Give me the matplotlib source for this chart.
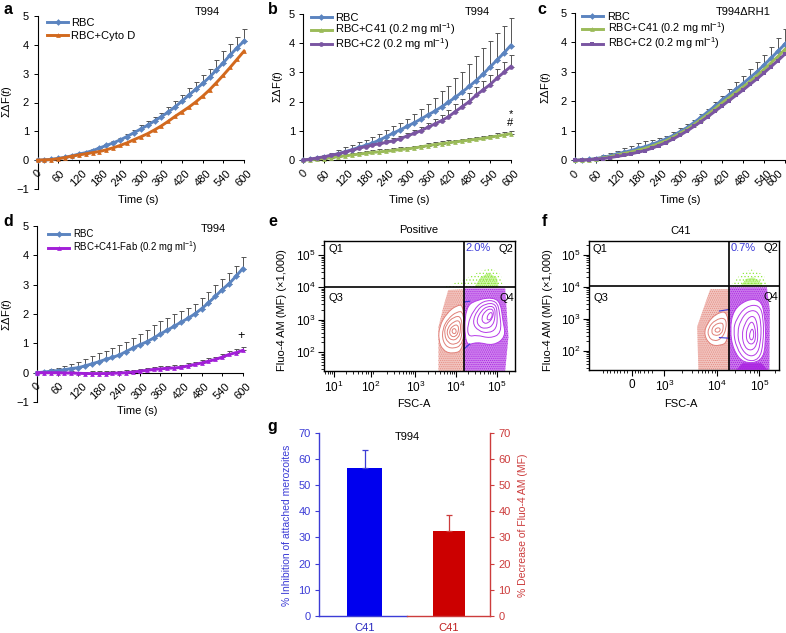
import numpy as np
import matplotlib
matplotlib.use("Agg")
import matplotlib.pyplot as plt
from matplotlib.path import Path
from matplotlib.patches import PathPatch, Polygon
from matplotlib.transforms import ScaledTranslation

plt.rcParams.update({
    'font.family': ['Liberation Sans', 'DejaVu Sans'], 'font.size': 8,
    'mathtext.fontset': 'custom', 'mathtext.rm': 'Liberation Sans',
    'mathtext.it': 'Liberation Sans:italic', 'mathtext.bf': 'Liberation Sans:bold',
    'axes.linewidth': 0.8, 'hatch.linewidth': 0.5,
})

time_s = list(range(0, 601, 20))
time_ticks = list(range(0, 601, 60))

a_rbc = [0,.01,.03,.06,.10,.15,.21,.26,.33,.42,.51,.60,.70,.82,.95,1.08,1.21,1.36,1.51,1.67,1.85,2.05,2.26,2.46,2.66,2.88,3.13,3.38,3.65,3.90,4.13]
a_rbc_err = [0,.01,.01,.02,.02,.02,.03,.04,.05,.05,.06,.07,.07,.08,.09,.15,.14,.13,.12,.17,.20,.22,.24,.26,.29,.29,.33,.40,.37,.38,.42]
a_cyto = [0,.01,.02,.05,.09,.14,.18,.22,.26,.30,.36,.43,.51,.60,.71,.81,.92,1.05,1.19,1.35,1.52,1.68,1.84,2.02,2.22,2.44,2.69,2.95,3.22,3.50,3.78]

b_rbc = [0,.02,.06,.10,.15,.21,.28,.35,.43,.50,.58,.68,.80,.92,1.03,1.15,1.27,1.40,1.54,1.67,1.82,1.98,2.15,2.33,2.52,2.72,2.94,3.18,3.42,3.66,3.92]
b_rbc_err = [0,.02,.05,.08,.10,.14,.17,.17,.17,.20,.22,.22,.23,.25,.25,.27,.30,.33,.38,.45,.53,.57,.65,.70,.76,.83,.88,.90,.93,.94,.96]
b_c41 = [0,.01,.03,.05,.08,.11,.14,.17,.20,.23,.26,.28,.30,.33,.36,.38,.41,.45,.49,.53,.56,.59,.62,.65,.68,.71,.74,.78,.82,.86,.90]
b_c41_err = [0,.01,.02,.02,.03,.04,.05,.06,.07,.07,.08,.08,.08,.08,.08,.08,.08,.08,.08,.08,.08,.08,.08,.08,.09,.09,.09,.09,.09,.10,.11]
b_c2 = [0,.03,.07,.11,.16,.21,.27,.33,.40,.46,.51,.56,.60,.66,.73,.82,.91,1.00,1.12,1.23,1.35,1.48,1.66,1.83,2.00,2.22,2.40,2.58,2.80,3.00,3.20]
b_c2_err = [0,.01,.02,.03,.04,.04,.05,.06,.07,.08,.08,.09,.09,.10,.10,.11,.12,.13,.16,.18,.20,.22,.25,.27,.30,.28,.30,.32,.33,.35,.40]

c_rbc = [0,.01,.03,.06,.10,.15,.22,.27,.33,.40,.46,.54,.63,.72,.84,.97,1.11,1.28,1.46,1.65,1.84,2.04,2.22,2.41,2.60,2.80,3.00,3.23,3.46,3.70,3.94]
c_rbc_err = [0,.01,.03,.05,.07,.09,.11,.13,.15,.18,.18,.16,.14,.12,.12,.12,.11,.10,.10,.10,.12,.15,.20,.24,.27,.30,.33,.35,.39,.45,.51]
c_c41 = [0,.01,.02,.05,.08,.12,.18,.23,.28,.34,.40,.48,.57,.66,.78,.91,1.05,1.21,1.38,1.56,1.75,1.94,2.12,2.30,2.48,2.67,2.87,3.08,3.30,3.52,3.76]
c_c41_err = [0,.01,.01,.02,.03,.04,.05,.06,.06,.07,.07,.06,.05,.04,.04,.04,.05,.06,.07,.08,.09,.10,.11,.12,.13,.14,.15,.16,.17,.18,.20]
c_c2 = [0,.01,.02,.04,.06,.09,.13,.17,.22,.27,.33,.41,.50,.60,.72,.85,.99,1.15,1.31,1.48,1.66,1.84,2.02,2.20,2.38,2.57,2.76,2.96,3.17,3.38,3.60]

d_rbc = [0,.02,.05,.07,.10,.14,.17,.23,.30,.37,.45,.52,.60,.72,.84,.95,1.05,1.18,1.32,1.45,1.58,1.72,1.85,2.00,2.18,2.38,2.60,2.83,3.03,3.28,3.55]
d_rbc_err = [0,.03,.07,.10,.13,.15,.18,.22,.27,.30,.30,.32,.33,.33,.35,.37,.42,.43,.45,.42,.42,.38,.35,.33,.35,.38,.38,.37,.37,.37,.38]
d_fab = [0,0,0,0,-.01,-.01,-.02,-.03,-.03,-.03,-.03,-.02,-.01,0,.02,.05,.08,.11,.13,.15,.16,.18,.23,.28,.33,.39,.45,.53,.62,.68,.76]
d_fab_err = [0,.01,.02,.03,.04,.05,.05,.06,.07,.07,.07,.07,.07,.08,.08,.08,.08,.08,.09,.09,.09,.09,.09,.09,.09,.10,.10,.10,.11,.11,.12]

# flow cytometry: log10 units
e_pink_dots = [(4.20,3.94),(3.81,3.92),(3.69,3.40),(3.57,2.78),(3.57,1.42),(4.20,1.42)]
e_purple_dots = [(4.20,3.97),(5.21,3.97),(5.29,2.47),(5.21,1.42),(4.20,1.42)]
e_green_outer = [(3.70,4.0),(4.20,4.25),(4.60,4.50),(4.85,4.60),(5.10,4.40),(5.16,4.0)]
e_green_inner = [(4.45,4.0),(4.60,4.30),(4.80,4.45),(5.0,4.30),(5.05,4.0)]
e_pink_contours = [
    [(4.20,3.45),(4.02,3.45),(3.77,3.20),(3.59,2.79),(3.57,2.37),(3.67,2.06),(3.89,1.94),(4.20,2.06)],
    [(4.20,3.25),(4.02,3.25),(3.81,3.04),(3.67,2.73),(3.67,2.32),(3.85,2.08),(4.20,2.22)],
    [(4.15,3.10),(3.95,3.10),(3.75,2.85),(3.71,2.55),(3.80,2.28),(3.98,2.22),(4.15,2.40)],
    [(4.10,2.98),(3.95,2.95),(3.79,2.75),(3.78,2.50),(3.90,2.35),(4.05,2.42),(4.12,2.65)],
    [(4.05,2.85),(3.93,2.82),(3.83,2.66),(3.87,2.48),(4.00,2.47),(4.07,2.66)],
    [(3.98,2.75),(3.89,2.68),(3.93,2.55),(4.02,2.60)],
]
e_purple_contours = [
    [(4.22,3.40),(4.55,3.63),(4.92,3.69),(5.10,3.51),(5.15,2.99),(5.23,2.47),(4.92,2.19),(4.51,2.32),(4.22,2.17)],
    [(4.28,2.84),(4.43,3.30),(4.67,3.59),(5.0,3.59),(5.08,3.20),(5.12,2.58),(4.84,2.42),(4.51,2.53),(4.30,2.47)],
    [(4.40,2.90),(4.52,3.30),(4.72,3.50),(4.98,3.50),(5.02,3.15),(5.0,2.72),(4.80,2.58),(4.55,2.65)],
    [(4.50,2.98),(4.62,3.28),(4.78,3.42),(4.95,3.40),(4.97,3.10),(4.90,2.80),(4.72,2.72),(4.57,2.78)],
    [(4.62,3.05),(4.72,3.27),(4.85,3.35),(4.93,3.27),(4.90,3.05),(4.80,2.90),(4.68,2.88)],
    [(4.75,3.05),(4.82,3.22),(4.90,3.22),(4.88,3.05),(4.80,2.97)],
]
e_gate_marks = [[(4.20,3.55),(4.34,3.57)], [(4.20,2.10),(4.34,2.25)]]
f_pink_dots = [(4.29,3.93),(3.83,3.93),(3.63,3.18),(3.52,2.76),(3.55,1.41),(4.29,1.41)]
f_purple_dots = [(4.29,3.99),(5.18,3.99),(5.25,3.28),(5.24,1.41),(4.29,1.41)]
f_purple_base = [(4.45,1.41),(4.60,1.62),(5.05,1.62),(5.20,1.41)]
f_green_outer = [(4.30,4.03),(4.58,4.43),(4.82,4.55),(5.10,4.38),(5.21,4.03)]
f_green_inner = [(4.55,4.03),(4.68,4.25),(4.85,4.30),(5.0,4.20),(5.08,4.03)]
f_pink_contours = [
    [(4.26,3.25),(3.98,3.18),(3.75,2.86),(3.68,2.50),(3.83,2.19),(4.06,2.16),(4.26,2.29)],
    [(4.20,3.05),(3.95,2.98),(3.78,2.72),(3.78,2.45),(3.92,2.30),(4.10,2.38),(4.22,2.70)],
    [(4.12,2.90),(3.92,2.82),(3.85,2.60),(3.93,2.47),(4.10,2.52),(4.15,2.75)],
    [(4.05,2.75),(3.93,2.68),(3.97,2.57),(4.08,2.62)],
]
f_purple_contours = [
    [(4.38,3.28),(4.70,3.61),(5.02,3.61),(5.13,3.18),(5.16,2.24),(5.06,1.67),(4.62,1.61),(4.38,2.03),(4.30,2.66)],
    [(4.45,3.0),(4.68,3.40),(5.0,3.45),(5.10,3.05),(5.10,2.25),(5.0,1.72),(4.68,1.68),(4.45,2.10),(4.38,2.65)],
    [(4.55,2.95),(4.72,3.25),(4.95,3.27),(5.05,2.9),(5.03,2.2),(4.92,1.85),(4.70,1.85),(4.52,2.2),(4.48,2.6)],
    [(4.65,2.85),(4.78,3.1),(4.92,3.05),(4.97,2.6),(4.95,2.2),(4.82,2.0),(4.65,2.1),(4.58,2.5)],
    [(4.72,2.75),(4.82,2.95),(4.90,2.75),(4.92,2.4),(4.85,2.2),(4.72,2.25),(4.68,2.5)],
    [(4.78,2.6),(4.84,2.72),(4.88,2.5),(4.83,2.32),(4.76,2.4)],
]
f_gate_marks = [[(4.05,3.25),(4.29,3.30)], [(4.05,2.42),(4.29,2.40)]]
e_x_major = [1, 1.9, 3, 4, 5]
e_y_major = [5, 4, 3, 2]
f_x_major = [1.96, 2.74, 4, 5]
f_x_labels = ['0', '$10^{3}$', '$10^{4}$', '$10^{5}$']
f_x_minor = [1.29,1.37,1.45,1.53,1.61,1.69,1.77,1.85,2.04,2.10,2.16,2.25,2.35,2.45,3.16,3.40,3.54,3.63,3.71,3.79,3.87,3.94,4.42,4.66,4.78,4.87,4.94,5.37]

g_categories = ['C41', 'C41']
g_inhibition, g_inhibition_err = 56.5, 7.0
g_decrease, g_decrease_err = 32.3, 6.2

BLUE, ORANGE, GREEN, PURPLE, MAGENTA = '#5B84C0', '#D2691E', '#9BBB59', '#7A55A2', '#A21FD8'
W, H = 786, 633
fig = plt.figure(figsize=(W/100, H/100), dpi=100)

def fx(p): return p/W
def fy(p): return 1-p/H

def px_axes(l, t, r, b):
    ax = fig.add_axes([l/W, 1-b/H, (r-l)/W, (b-t)/H])
    ax.patch.set_alpha(0)
    return ax

def place_labels(ax, xl, xp, yl, yp):
    ax.set_xlabel(xl, ha='center', va='center')
    ax.xaxis.set_label_coords(fx(xp[0]), fy(xp[1]), transform=fig.transFigure)
    ax.set_ylabel(yl, ha='center', va='center', rotation=90)
    ax.yaxis.set_label_coords(fx(yp[0]), fy(yp[1]), transform=fig.transFigure)

def note(s, x, y, **kw):
    kw.setdefault('ha', 'center')
    kw.setdefault('va', 'center')
    fig.text(fx(x), fy(y), s, **kw)

def line_panel(box, ymin, series, xlabel_xy, ylabel_xy, leg_xy, leg_labelspacing, leg_fs=8, pad=0.3):
    ax = px_axes(*box)
    ax.set_xlim(0, 600)
    ax.set_ylim(ymin, 5)
    for s in ['top', 'right']:
        ax.spines[s].set_visible(False)
    ax.spines['bottom'].set_position(('data', 0))
    handles = []
    for vals, err, col, mk, lab in series:
        if err is not None:
            ax.errorbar(time_s, vals, yerr=[[0]*len(err), err], fmt='none', ecolor='#555555',
                        elinewidth=0.7, capsize=1.8, capthick=0.7, zorder=2, clip_on=False)
    for i, (vals, err, col, mk, lab) in enumerate(series):
        h, = ax.plot(time_s, vals, color=col, lw=2.1, marker=mk, ms=3.4, mew=0, zorder=3+i, clip_on=False, label=lab)
        handles.append(h)
    ax.set_xticks(time_ticks)
    ax.set_yticks(range(ymin, 6))
    ax.set_yticklabels([str(v).replace('-', '\u2212') for v in range(ymin, 6)])
    ax.tick_params(axis='x', length=2, width=0.7, pad=4, labelrotation=45)
    ax.tick_params(axis='y', length=3, width=0.7, pad=3)
    place_labels(ax, 'Time (s)', xlabel_xy, 'ΣΔF($\\mathit{t}$)', ylabel_xy)
    ax.legend(handles=handles, loc='upper left', bbox_to_anchor=(fx(leg_xy[0]), fy(leg_xy[1])),
              bbox_transform=fig.transFigure, frameon=False, borderpad=0, borderaxespad=0,
              handlelength=21/(leg_fs*100/72), handletextpad=pad, labelspacing=leg_labelspacing, fontsize=leg_fs)
    return ax

ML = ' (0.2 mg ml$^{\\mathregular{\u22121}}$)'
axa = line_panel((37.5, 16, 244, 189), -1,
                 [(a_rbc, a_rbc_err, BLUE, 'D', 'RBC'), (a_cyto, None, ORANGE, '^', 'RBC+Cyto D')],
                 (138, 200), (7, 102), (47, 17.5), 0.32)
axb = line_panel((303.3, 14, 510.7, 160), 0,
                 [(b_rbc, b_rbc_err, BLUE, 'D', 'RBC'), (b_c41, b_c41_err, GREEN, '^', 'RBC+C41'+ML),
                  (b_c2, b_c2_err, PURPLE, 'o', 'RBC+C2'+ML)],
                 (409, 200), (278, 87), (310.7, 13), -0.12)
axc = line_panel((575, 12.7, 785, 160.3), 0,
                 [(c_rbc, c_rbc_err, BLUE, 'D', 'RBC'), (c_c41, c_c41_err, GREEN, '^', 'RBC+C41'+ML),
                  (c_c2, None, PURPLE, 's', 'RBC+C2'+ML)],
                 (680, 200), (546, 88), (581.7, 11.5), -0.08, leg_fs=7.8, pad=0.45)
axd = line_panel((37, 226, 242.7, 402), -1,
                 [(d_rbc, d_rbc_err, BLUE, 'D', 'RBC'), (d_fab, d_fab_err, MAGENTA, '^', 'RBC+C41-Fab'+ML)],
                 (137, 411), (7, 315), (48, 229), 0.03, leg_fs=6.9, pad=0.4)
# keep the last tick label of panel c inside the picture
last = axc.get_xticklabels()[-1]
last.set_transform(last.get_transform() + ScaledTranslation(-10/72*0.72, 0, fig.dpi_scale_trans))
axb.text(600, 1.58, '*', ha='center', va='center', fontsize=8, clip_on=False)
axb.text(598, 1.27, '#', ha='center', va='center', fontsize=8, clip_on=False)
axd.text(595, 1.24, '+', ha='center', va='center', fontsize=9)

for s, x, y in [('T994', 207, 12), ('T994', 477, 12), ('T994ΔRH1', 743, 12), ('T994', 213, 229)]:
    note(s, x, y)

def smooth_path(pts):
    pts = np.asarray(pts, float)
    mids = (pts + np.roll(pts, -1, axis=0)) / 2
    v, c = [mids[-1]], [Path.MOVETO]
    for p, m in zip(pts, mids):
        v += [p, m]
        c += [Path.CURVE3, Path.CURVE3]
    return Path(v, c)

def dots(ax, poly, col, hatch, tint=None, z=1):
    if tint is not None:
        ax.add_patch(Polygon(poly, closed=True, facecolor=col, alpha=tint, edgecolor='none', zorder=z))
    ax.add_patch(Polygon(poly, closed=True, facecolor='none', edgecolor=col, lw=0, hatch=hatch, zorder=z))

def contours(ax, sets, col, z):
    ax.add_patch(PathPatch(smooth_path(sets[0]), facecolor='white', edgecolor='none', zorder=z))
    for c in sets:
        ax.add_patch(PathPatch(smooth_path(c), facecolor='none', edgecolor=col, lw=0.7, zorder=z+1))

def log_minor(lo, hi):
    return [k + np.log10(m) for k in range(lo, hi) for m in range(2, 10)]

def flow_axes(box, xlim, ylim, xmaj, xlabs, xmin, vline, hline, title, title_xy, xlabel_xy, ylabel_xy):
    ax = px_axes(*box)
    ax.set_xlim(*xlim); ax.set_ylim(*ylim)
    ax.set_xticks(xmaj); ax.set_xticklabels(xlabs)
    ax.set_xticks(xmin, minor=True)
    ax.set_yticks(e_y_major); ax.set_yticklabels(['$10^{%d}$' % k for k in e_y_major])
    ax.set_yticks([t for t in log_minor(1, 6) if ylim[0] < t < ylim[1]], minor=True)
    ax.tick_params(which='major', length=4.5, width=0.8, pad=2, labelsize=8.5)
    ax.tick_params(which='minor', length=2.5, width=0.6)
    place_labels(ax, 'FSC-A', xlabel_xy, 'Fluo-4 AM (MF) (×1,000)', ylabel_xy)
    ax.axvline(vline, color='black', lw=1.2, zorder=8)
    ax.axhline(hline, color='black', lw=1.2, zorder=8)
    for s in ax.spines.values():
        s.set_linewidth(1.0)
    note(title, *title_xy)
    return ax

PINK, VIOLET, LIME = '#E58A80', '#A81FE0', '#8FE83A'
C_PINK, C_VIOLET, GATE = '#E08078', '#B53BE8', '#3A3AD8'
HATCH = '.' * 8
e_xlim, e_ylim = (0.762, 5.459), (1.423, 5.443)
axe = flow_axes((324.3, 240.7, 515.3, 370.7), e_xlim, e_ylim, e_x_major,
                ['$10^{1}$', '$10^{2}$', '$10^{3}$', '$10^{4}$', '$10^{5}$'],
                [t for t in log_minor(0, 6) if e_xlim[0] < t < e_xlim[1]],
                4.197, 4.0, 'Positive', (419, 230), (414, 404), (282, 310))
dots(axe, e_pink_dots, PINK, HATCH, tint=0.5)
dots(axe, e_purple_dots, VIOLET, HATCH, tint=0.55)
dots(axe, e_green_outer, LIME, '.' * 5)
dots(axe, e_green_inner, LIME, HATCH, tint=0.4)
contours(axe, e_pink_contours, C_PINK, 3)
contours(axe, e_purple_contours, C_VIOLET, 5)
for seg in e_gate_marks:
    axe.plot(*zip(*seg), color=GATE, lw=0.8, zorder=7)

f_xlim, f_ylim = (0.952, 5.476), (1.406, 5.448)
axf = flow_axes((589.3, 240.7, 779.3, 370), f_xlim, f_ylim, f_x_major, f_x_labels, f_x_minor,
                4.286, 4.02, 'C41', (681, 231), (681, 404), (548, 310))
dots(axf, f_pink_dots, PINK, HATCH, tint=0.5)
dots(axf, f_purple_dots, VIOLET, HATCH, tint=0.6)
dots(axf, f_green_outer, LIME, '.' * 5)
dots(axf, f_green_inner, LIME, HATCH, tint=0.4)
contours(axf, f_pink_contours, C_PINK, 3)
contours(axf, f_purple_contours, C_VIOLET, 5)
axf.add_patch(Polygon(f_purple_base, closed=True, facecolor=VIOLET, alpha=0.8, edgecolor='none', zorder=7))
for seg in f_gate_marks:
    axf.plot(*zip(*seg), color=GATE, lw=0.8, zorder=7)

for s, x, y, c in [('Q1', 335.5, 249.5, 'k'), ('Q2', 506, 249.5, 'k'), ('Q3', 335.5, 298.5, 'k'), ('Q4', 506.5, 298.5, 'k'),
                   ('2.0%', 478.5, 248.5, GATE),
                   ('Q1', 600, 249.5, 'k'), ('Q2', 771, 248.5, 'k'), ('Q3', 601, 298.5, 'k'), ('Q4', 771, 297.5, 'k'),
                   ('0.7%', 743, 248.5, GATE)]:
    note(s, x, y, color=c, zorder=20)

# panel g
G_BLUE, G_RED = '#3C3CD6', '#CC3C3C'
axg = px_axes(319.3, 432.7, 490, 616)
axg.set_xlim(-0.535, 1.485)
axg.set_ylim(0, 70)
axg.bar([0], [g_inhibition], width=0.42, color='#0000EE', zorder=2)
axg.errorbar([0], [g_inhibition], yerr=[[0], [g_inhibition_err]], fmt='none', ecolor=G_BLUE, elinewidth=0.9, capsize=2.2, capthick=0.9)
for s in ['top', 'right']:
    axg.spines[s].set_visible(False)
axg.spines['left'].set_color(G_BLUE)
axg.spines['bottom'].set_color(G_BLUE)
axg.spines['bottom'].set_bounds(-0.535, 0.5)
axg.spines['left'].set_linewidth(1.0)
axg.spines['bottom'].set_linewidth(1.0)
axg.set_yticks(range(0, 71, 10))
axg.tick_params(axis='y', colors=G_BLUE, length=3, width=0.8, pad=3)
axg.set_xticks([0, 1])
axg.set_xticklabels(g_categories)
axg.get_xticklabels()[0].set_color('#2A2AC0')
axg.get_xticklabels()[1].set_color('#C02020')
axg.tick_params(axis='x', length=0, pad=5)
axg.set_ylabel('% Inhibition of attached merozoites', color=G_BLUE, fontsize=7.5, ha='center', va='center')
axg.yaxis.set_label_coords(fx(287), fy(525), transform=fig.transFigure)

axr = axg.twinx()
axr.patch.set_alpha(0)
axr.set_ylim(0, 70)
axr.bar([1], [g_decrease], width=0.38, color='#CC0000', zorder=2)
axr.errorbar([1], [g_decrease], yerr=[[0], [g_decrease_err]], fmt='none', ecolor=G_RED, elinewidth=0.9, capsize=2.2, capthick=0.9)
for s in ['top', 'left']:
    axr.spines[s].set_visible(False)
axr.spines['right'].set_color(G_RED)
axr.spines['bottom'].set_color(G_RED)
axr.spines['bottom'].set_bounds(0.5, 1.485)
axr.spines['right'].set_linewidth(1.0)
axr.spines['bottom'].set_linewidth(1.0)
axr.set_yticks(range(0, 71, 10))
axr.tick_params(axis='y', colors=G_RED, length=3, width=0.8, pad=3)
axr.set_ylabel('% Decrease of Fluo-4 AM (MF)', color=G_RED, fontsize=7.5, rotation=90, ha='center', va='center')
axr.yaxis.set_label_coords(fx(523), fy(525), transform=fig.transFigure)
note('T994', 407, 437)

for s, x, y in [('a', 8, 10), ('b', 273, 9), ('c', 542, 10), ('d', 8, 221), ('e', 273, 221), ('f', 544, 221), ('g', 272, 426)]:
    note(s, x, y, fontsize=11.5, fontweight='bold')

fig.savefig('out.png', dpi=100)
